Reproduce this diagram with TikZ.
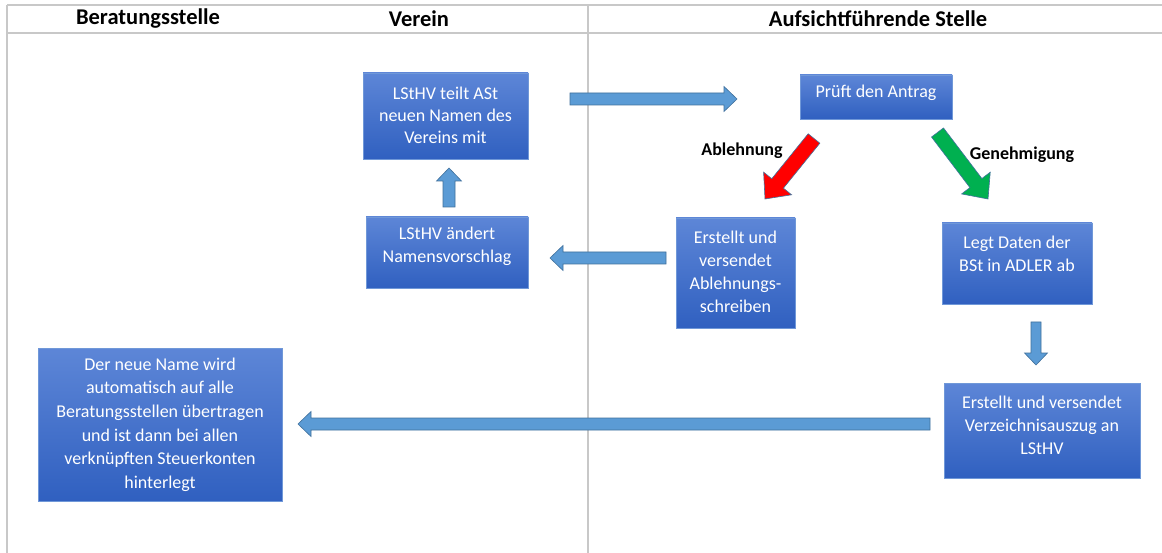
\documentclass[tikz,border=0pt]{standalone}
\usepackage{fontspec}
\setmainfont{Carlito}
\usetikzlibrary{calc}
\definecolor{gridc}{RGB}{200,200,200}
\definecolor{boxtop}{RGB}{93,134,215}
\definecolor{boxbot}{RGB}{48,96,192}
\definecolor{boxline}{RGB}{112,152,216}
\definecolor{arrfill}{RGB}{91,155,213}
\definecolor{arrline}{RGB}{65,113,156}
\definecolor{redf}{RGB}{255,0,0}
\definecolor{greenf}{RGB}{0,176,80}
\tikzset{
  gridline/.style={draw=gridc, line width=1.5pt},
  hdr/.style={font=\bfseries\fontsize{22.5}{26}\selectfont, text=black},
  box/.style={draw=boxline, line width=0.75pt, top color=boxtop, bottom color=boxbot, inner sep=0pt},
  btext/.style={text=white, font=\fontsize{18}{23}\selectfont, align=center},
  lbl/.style={font=\bfseries\fontsize{18}{22}\selectfont, text=black},
  blue arrow/.style={fill=arrfill, draw=arrline, line width=0.6pt},
  red arrow/.style={fill=redf, draw=arrline, line width=0.6pt},
  green arrow/.style={fill=greenf, draw=arrline, line width=0.6pt},
}
% #1 from, #2 to, #3 shaft half width, #4 head half width, #5 head length, #6 style
\newcommand\blockarrow[6]{%
  \coordinate (ba-h) at ($(#2)!#5!(#1)$);
  \path[#6] ($(#1)!#3!90:(#2)$) -- ($(ba-h)!#3!90:(#2)$) -- ($(ba-h)!#4!90:(#2)$) -- (#2)
    -- ($(ba-h)!#4!-90:(#2)$) -- ($(ba-h)!#3!-90:(#2)$) -- ($(#1)!#3!-90:(#2)$) -- cycle;
}
\begin{document}
\begin{tikzpicture}[x=1pt, y=-1pt]
\path[use as bounding box, fill=white] (0,0) rectangle (1162,553);
% table lines
\coordinate (tl) at (7,5);
\coordinate (tr) at (1162,5);
\coordinate (hl) at (7,33);
\coordinate (hr) at (1162,33);
\coordinate (bl) at (7,553);
\coordinate (dt) at (588,5);
\coordinate (db) at (588,553);
\draw[gridline] (tl) -- (tr);
\draw[gridline] (hl) -- (hr);
\draw[gridline] (tl) -- (bl);
\draw[gridline] (dt) -- (db);
% headers
\node[hdr] (h1) at (148,19) {Beratungsstelle};
\node[hdr] (h2) at (419,19) {Verein};
\node[hdr] (h3) at (878,19) {Aufsichtführende Stelle};
% boxes
\node[box, minimum width=165pt, minimum height=86pt,
  label={[btext, font=\fontsize{18}{22}\selectfont, yshift=1pt]center:{LStHV teilt ASt\\neuen Namen des\\Vereins mit}}] (b1) at (445.5,116) {};
\node[box, minimum width=152pt, minimum height=44pt,
  label={[btext, yshift=4pt]center:{Prüft den Antrag}}] (b2) at (876,97) {};
\node[box, minimum width=119pt, minimum height=110pt,
  label={[btext, yshift=1.5pt]center:{Erstellt und\\versendet\\Ablehnungs-\\schreiben}}] (b3) at (735.5,273) {};
\node[box, minimum width=162pt, minimum height=71pt,
  label={[btext, yshift=6pt]center:{LStHV ändert\\Namensvorschlag}}] (b4) at (447,252.5) {};
\node[box, minimum width=150pt, minimum height=81pt,
  label={[btext, yshift=10pt]center:{Legt Daten der\\BSt in ADLER ab}}] (b5) at (1017,263.5) {};
\node[box, minimum width=196pt, minimum height=95pt,
  label={[btext, yshift=5pt]center:{Erstellt und versendet\\Verzeichnisauszug an\\LStHV}}] (b6) at (1042,430.5) {};
\node[box, minimum width=244pt, minimum height=153pt,
  label={[btext, font=\fontsize{18}{23.6}\selectfont]center:{Der neue Name wird\\automatisch auf alle\\Beratungsstellen übertragen\\und ist dann bei allen\\verknüpften Steuerkonten\\hinterlegt}}] (b7) at (160,424.5) {};
% decision labels
\node[lbl] (l1) at (742,151) {Ablehnung};
\node[lbl] (l2) at (1022,155) {Genehmigung};
% arrows
\coordinate (a1s) at (570,99);   \coordinate (a1e) at (737,99);
\coordinate (a2s) at (814,138.5); \coordinate (a2e) at (765,199);
\coordinate (a3s) at (937.5,132.5); \coordinate (a3e) at (988,199);
\coordinate (a4s) at (666,258);  \coordinate (a4e) at (550,258);
\coordinate (a5s) at (449,207);  \coordinate (a5e) at (449,168);
\coordinate (a6s) at (1036,322); \coordinate (a6e) at (1036,365);
\coordinate (a7s) at (930,424);  \coordinate (a7e) at (298,424);
\blockarrow{a1s}{a1e}{6pt}{12.5pt}{13pt}{blue arrow}
\blockarrow{a2s}{a2e}{7.5pt}{18pt}{20pt}{red arrow}
\blockarrow{a3s}{a3e}{7.5pt}{18pt}{20pt}{green arrow}
\blockarrow{a4s}{a4e}{6pt}{12.5pt}{13pt}{blue arrow}
\blockarrow{a5s}{a5e}{6pt}{12.5pt}{13pt}{blue arrow}
\blockarrow{a6s}{a6e}{5pt}{11.5pt}{12pt}{blue arrow}
\blockarrow{a7s}{a7e}{6pt}{12.5pt}{13pt}{blue arrow}
\end{tikzpicture}
\end{document}
